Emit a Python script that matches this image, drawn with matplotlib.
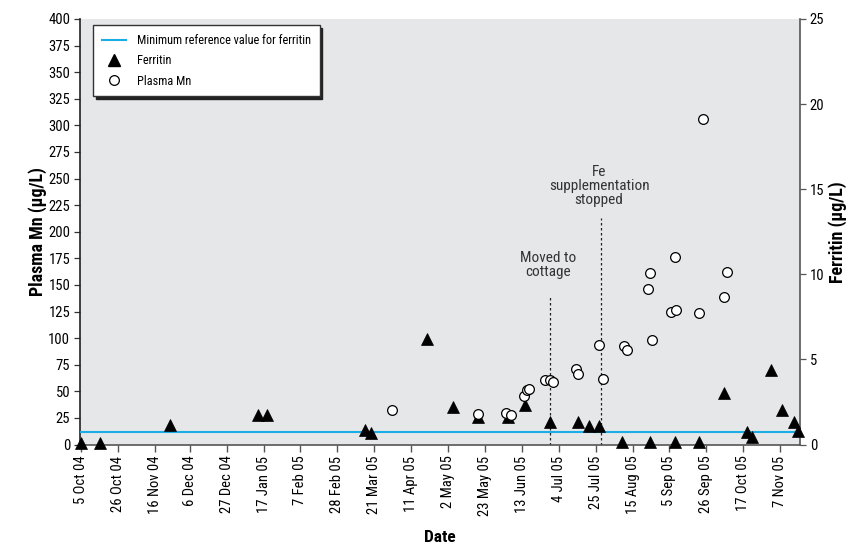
import matplotlib
matplotlib.use("Agg")
import matplotlib.pyplot as plt
from matplotlib.lines import Line2D
import pandas as pd
from matplotlib import font_manager as fm

available = {f.name for f in fm.fontManager.ttflist}
FAM = [f for f in ["Liberation Sans Narrow", "Roboto Condensed", "DejaVu Sans"] if f in available] or ["DejaVu Sans"]
plt.rcParams['font.family'] = FAM + ['DejaVu Sans']

# ---------------- data ----------------
ferritin_dates = ["2004-10-05", "2004-10-16", "2004-11-25", "2005-01-14", "2005-01-19",
                  "2005-03-16", "2005-03-19", "2005-04-20", "2005-05-05", "2005-05-19",
                  "2005-06-05", "2005-06-15", "2005-06-29", "2005-07-15", "2005-07-21",
                  "2005-07-27", "2005-08-09", "2005-08-25", "2005-09-08", "2005-09-22",
                  "2005-10-06", "2005-10-19", "2005-10-22", "2005-11-02", "2005-11-08",
                  "2005-11-15", "2005-11-17"]
ferritin_values = [0.1, 0.1, 1.15, 1.75, 1.75,
                   0.85, 0.68, 6.2, 2.2, 1.6,
                   1.6, 2.35, 1.35, 1.35, 1.1,
                   1.1, 0.15, 0.15, 0.15, 0.15,
                   3.0, 0.75, 0.42, 4.4, 2.0,
                   1.35, 0.8]

mn_dates = ["2005-03-31", "2005-05-19", "2005-06-04", "2005-06-07", "2005-06-14",
            "2005-06-16", "2005-06-17", "2005-06-26", "2005-06-29", "2005-07-01",
            "2005-07-14", "2005-07-15", "2005-07-27", "2005-07-29", "2005-08-10",
            "2005-08-12", "2005-08-24", "2005-08-25", "2005-08-26", "2005-09-06",
            "2005-09-08", "2005-09-09", "2005-09-22", "2005-09-24", "2005-10-06",
            "2005-10-08"]
mn_values = [32.5, 29, 29.5, 28, 45.7,
             51.4, 52, 60.8, 61, 58.7,
             70.6, 66.5, 94, 61.5, 93,
             89, 146.5, 161, 98.3, 125,
             176, 126, 124, 306, 139,
             162.4]

ferritin_min_ref = 0.75

tick_dates = ["2004-10-05", "2004-10-26", "2004-11-16", "2004-12-06", "2004-12-27",
              "2005-01-17", "2005-02-07", "2005-02-28", "2005-03-21", "2005-04-11",
              "2005-05-02", "2005-05-23", "2005-06-13", "2005-07-04", "2005-07-25",
              "2005-08-15", "2005-09-05", "2005-09-26", "2005-10-17", "2005-11-07"]
tick_labels = ["5 Oct 04", "26 Oct 04", "16 Nov 04", "6 Dec 04", "27 Dec 04",
               "17 Jan 05", "7 Feb 05", "28 Feb 05", "21 Mar 05", "11 Apr 05",
               "2 May 05", "23 May 05", "13 Jun 05", "4 Jul 05", "25 Jul 05",
               "15 Aug 05", "5 Sep 05", "26 Sep 05", "17 Oct 05", "7 Nov 05"]

event_dates = ["2005-06-29", "2005-07-28"]
event_tops = [140, 213]
event_labels = ["Moved to\ncottage", "Fe\nsupplementation\nstopped"]
event_label_y = [169, 243]

# ---------------- plot ----------------
fd = pd.to_datetime(ferritin_dates)
md = pd.to_datetime(mn_dates)
td = pd.to_datetime(tick_dates)
ed = pd.to_datetime(event_dates)

fig = plt.figure(figsize=(8.53, 5.5), dpi=100)
ax = fig.add_axes([80/853, 1-444.5/550, 720/853, 425.5/550])
ax2 = ax.twinx()

bg = "#e6e7e8"
ax.set_facecolor(bg)
ax2.patch.set_visible(False)

xmin = pd.Timestamp("2004-10-05") - pd.Timedelta(hours=12)
xmax = pd.Timestamp("2005-11-18") + pd.Timedelta(hours=8)
ax.set_xlim(xmin, xmax)
ax.set_ylim(0, 400)
ax2.set_ylim(0, 25)

blue = "#1aaee5"
# reference line (ferritin)
ax2.axhline(ferritin_min_ref, color=blue, lw=1.5, zorder=2)

# event lines
for d, top, lab, ly in zip(ed, event_tops, event_labels, event_label_y):
    ax.vlines(d, 0, top, colors="#222222", linestyles=(0, (2, 2)), lw=0.9, zorder=2)
    ax2.text(d - pd.Timedelta(days=1), ly / 16.0, lab, ha="center", va="center",
             fontsize=11, color="#333333", linespacing=1.02, zorder=5)

ax2.plot(md, [v / 16.0 for v in mn_values], linestyle="none", marker="o", ms=7,
         mfc="white", mec="black", mew=0.9, zorder=4, clip_on=False)
ax2.plot(fd, ferritin_values, linestyle="none", marker="^", ms=8.5,
         mfc="black", mec="black", mew=0.5, zorder=3, clip_on=False)

# ticks
ax.set_xticks(td)
ax.set_xticklabels(tick_labels, rotation=90, fontsize=10.5)
ax.set_yticks(range(0, 401, 25))
ax2.set_yticks(range(0, 26, 5))
for lab in ax.get_yticklabels() + ax2.get_yticklabels():
    lab.set_fontsize(10.5)

ax.tick_params(axis="x", direction="out", length=5, width=1, color="#555555", pad=3)
ax.tick_params(axis="y", direction="out", length=4, width=0.9, color="#333333", pad=3)
ax2.tick_params(axis="y", direction="out", length=4, width=0.9, color="#555555", pad=3)

for a in (ax, ax2):
    a.spines["top"].set_visible(False)
ax.spines["right"].set_visible(False)
ax2.spines["left"].set_visible(False)
ax2.spines["bottom"].set_visible(False)
ax.spines["left"].set_color("#222222")
ax.spines["left"].set_linewidth(1.2)
ax.spines["bottom"].set_color("#555555")
ax.spines["bottom"].set_linewidth(1.2)
ax2.spines["right"].set_color("#555555")
ax2.spines["right"].set_linewidth(1.2)

ax.set_ylabel("Plasma Mn (μg/L)", fontsize=13, fontweight="bold", labelpad=1)
ax2.set_ylabel("Ferritin (μg/L)", fontsize=13, fontweight="bold", labelpad=3)
ax.set_xlabel("Date", fontsize=12.5, fontweight="bold", labelpad=10)

handles = [Line2D([], [], color=blue, lw=1.5),
           Line2D([], [], linestyle="none", marker="^", ms=8.5, mfc="black", mec="black"),
           Line2D([], [], linestyle="none", marker="o", ms=7, mfc="white", mec="black", mew=0.9)]
labels = ["Minimum reference value for ferritin", "Ferritin", "Plasma Mn"]
leg = ax2.legend(handles, labels, loc="upper left", bbox_to_anchor=(0.018, 0.985),
                 borderaxespad=0, frameon=True, fancybox=False, fontsize=8.8,
                 handlelength=2.0, handletextpad=0.9, labelspacing=0.6, borderpad=0.7,
                 shadow={"color": "#222222", "alpha": 1.0})
leg.get_frame().set_edgecolor("#333333")
leg.get_frame().set_linewidth(1.0)
leg.set_zorder(10)

fig.savefig("out.png", dpi=100, facecolor="white")
